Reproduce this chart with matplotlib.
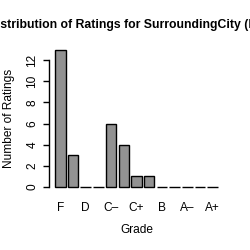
import matplotlib
matplotlib.use("Agg")
import matplotlib.pyplot as plt

# grades and counts
grades = ["F", "D-", "D", "D+", "C-", "C", "C+", "B-", "B", "B+", "A-", "A", "A+"]
counts = [13, 3, 0, 0, 6, 4, 1, 1, 0, 0, 0, 0, 0]
shown_labels = ["F", "", "D", "", "C\u2013", "", "C+", "", "B", "", "A\u2013", "", "A+"]
y_ticks = [0, 2, 4, 6, 8, 10, 12]

plt.rcParams["font.family"] = ["Liberation Sans", "DejaVu Sans"]

W, H = 250, 250
fig = plt.figure(figsize=(W / 100, H / 100), dpi=100)

# plot region in pixels (R barplot style)
left, right, top, bottom = 48.5, 224.5, 44.0, 192.5
ax = fig.add_axes([left / W, 1 - bottom / H, (right - left) / W, (bottom - top) / H])

# R barplot: width 1, space 0.2
centers = [0.7 + 1.2 * i for i in range(len(grades))]
ax.bar(centers, counts, width=1.0, color="#929292", edgecolor="black", linewidth=1.0)

ax.set_xlim(-0.416, 16.216)
ax.set_ylim(-0.52, 13.52)

for s in ["top", "right", "bottom"]:
    ax.spines[s].set_visible(False)
ax.spines["left"].set_bounds(0, 12)
ax.spines["left"].set_linewidth(1.0)

ax.set_yticks(y_ticks)
ax.set_yticklabels([str(v) for v in y_ticks], rotation=90, va="center", fontsize=8.6)
ax.tick_params(axis="y", length=4.3, width=1.0, pad=3)

ax.set_xticks(centers)
ax.set_xticklabels(shown_labels, fontsize=8.6)
ax.tick_params(axis="x", length=0, pad=7)

fig.text(137 / W, 1 - 233 / H, "Grade", ha="center", va="baseline", fontsize=8.6)
fig.text(9 / W, 1 - 118 / H, "Number of Ratings", ha="center", va="center",
         rotation=90, fontsize=8.6)
fig.text(133 / W, 1 - 28 / H, "Distribution of Ratings for SurroundingCity (East)",
         ha="center", va="baseline", fontsize=8.8, fontweight="bold")

fig.savefig("out.png", dpi=100)
